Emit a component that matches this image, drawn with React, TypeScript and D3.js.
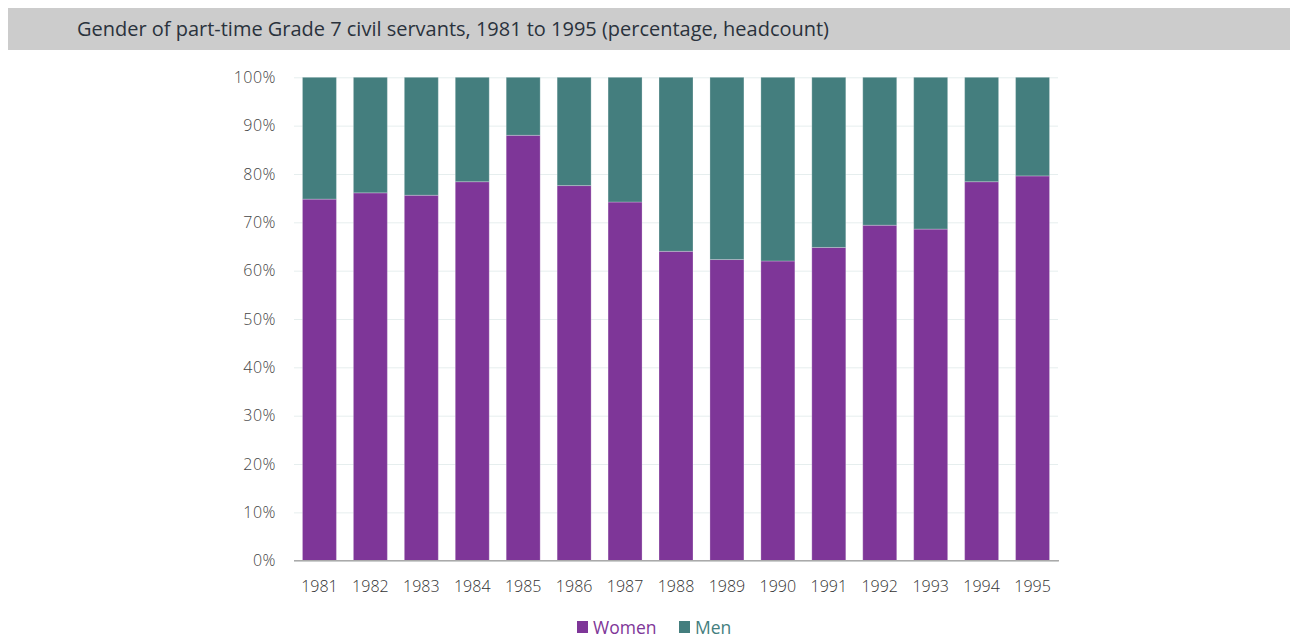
import React, { useRef, useEffect } from "react";
import * as d3 from "d3";

const years = ["1981", "1982", "1983", "1984", "1985", "1986", "1987", "1988", "1989", "1990", "1991", "1992", "1993", "1994", "1995"];
const women = [74.8, 76.1, 75.6, 78.4, 88.0, 77.6, 74.2, 64.0, 62.3, 62.0, 64.8, 69.4, 68.6, 78.4, 79.6];
const men = women.map(w => 100 - w);
const yTicks = [0, 10, 20, 30, 40, 50, 60, 70, 80, 90, 100];
const seriesNames = ["Women", "Men"];
const colors = ["#7e3698", "#447e7e"];

const W = 1290;
const H = 643;
const margin = { top: 77.3, right: 232, bottom: 82.3, left: 294 };

const App = () => {
    const svgRef = useRef<SVGSVGElement>(null);

    useEffect(() => {
        const svg = d3.select(svgRef.current);
        svg.selectAll("*").remove();

        const x = d3.scaleBand()
            .domain(years)
            .range([margin.left, W - margin.right])
            .paddingInner(0.333)
            .paddingOuter(0.166);

        const y = d3.scaleLinear()
            .domain([0, 100])
            .range([H - margin.bottom, margin.top]);

        // title bar
        svg.append("rect")
            .attr("x", 8).attr("y", 8)
            .attr("width", W - 8).attr("height", 42)
            .attr("fill", "#cccccc");
        svg.append("text")
            .attr("x", 77).attr("y", 36)
            .attr("textLength", 752)
            .attr("lengthAdjust", "spacingAndGlyphs")
            .style("font-family", "'Open Sans', sans-serif")
            .style("font-size", "19.5px")
            .style("font-weight", 500)
            .attr("fill", "#2a323c")
            .text("Gender of part-time Grade 7 civil servants, 1981 to 1995 (percentage, headcount)");

        // grid
        svg.append("g")
            .attr("transform", `translate(${margin.left},0)`)
            .call(d3.axisLeft(y).tickValues(yTicks).tickSize(-(W - margin.left - margin.right)).tickFormat(() => ""))
            .call(g => g.select(".domain").remove())
            .call(g => g.selectAll(".tick line").attr("stroke", "#e6eeee").attr("stroke-width", 1));

        // y labels
        svg.append("g")
            .selectAll("text")
            .data(yTicks)
            .enter()
            .append("text")
            .attr("x", 276)
            .attr("y", d => y(d))
            .attr("dy", "0.35em")
            .attr("text-anchor", "end")
            .style("font-family", "'Open Sans', sans-serif")
            .style("font-size", "16px")
            .style("font-weight", 300)
            .style("letter-spacing", "0.5px")
            .attr("fill", "#444")
            .text(d => `${d}%`);

        // stacked bars
        const rows = years.map((yr, i) => ({ year: yr, Women: women[i], Men: men[i] }));
        const stack = d3.stack<any>().keys(seriesNames)(rows);
        svg.append("g")
            .selectAll("g")
            .data(stack)
            .enter()
            .append("g")
            .attr("fill", (_, i) => colors[i])
            .selectAll("rect")
            .data(d => d)
            .enter()
            .append("rect")
            .attr("x", d => x(d.data.year)!)
            .attr("y", d => y(d[1]))
            .attr("width", x.bandwidth())
            .attr("height", d => y(d[0]) - y(d[1]))
            .attr("stroke", "#ffffff")
            .attr("stroke-opacity", 0.25)
            .attr("stroke-width", 1);

        // x axis line
        svg.append("line")
            .attr("x1", margin.left).attr("x2", W - margin.right + 1)
            .attr("y1", H - margin.bottom).attr("y2", H - margin.bottom)
            .attr("stroke", "#aaaaaa").attr("stroke-width", 1.5);

        // x labels
        svg.append("g")
            .selectAll("text")
            .data(years)
            .enter()
            .append("text")
            .attr("x", d => x(d)! + x.bandwidth() / 2)
            .attr("y", 592)
            .attr("text-anchor", "middle")
            .style("font-family", "'Open Sans', sans-serif")
            .style("font-size", "16px")
            .style("font-weight", 300)
            .attr("fill", "#333")
            .text(d => d);

        // legend
        const legend = [
            { name: "Women", x: 577 },
            { name: "Men", x: 679 },
        ];
        const lg = svg.append("g");
        legend.forEach((l, i) => {
            lg.append("rect")
                .attr("x", l.x).attr("y", 621)
                .attr("width", 11).attr("height", 12)
                .attr("fill", colors[i]);
            lg.append("text")
                .attr("x", l.x + 16).attr("y", 634)
                .style("font-family", "'Open Sans', sans-serif")
                .style("font-size", "17.5px")
                .style("font-weight", 500)
                .attr("fill", colors[i])
                .text(l.name);
        });
    }, []);

    return (
        <div>
            <svg ref={svgRef} width={W} height={H} style={{ position: "absolute", left: 0, top: 0 }}></svg>
        </div>
    );
};

export default App;
